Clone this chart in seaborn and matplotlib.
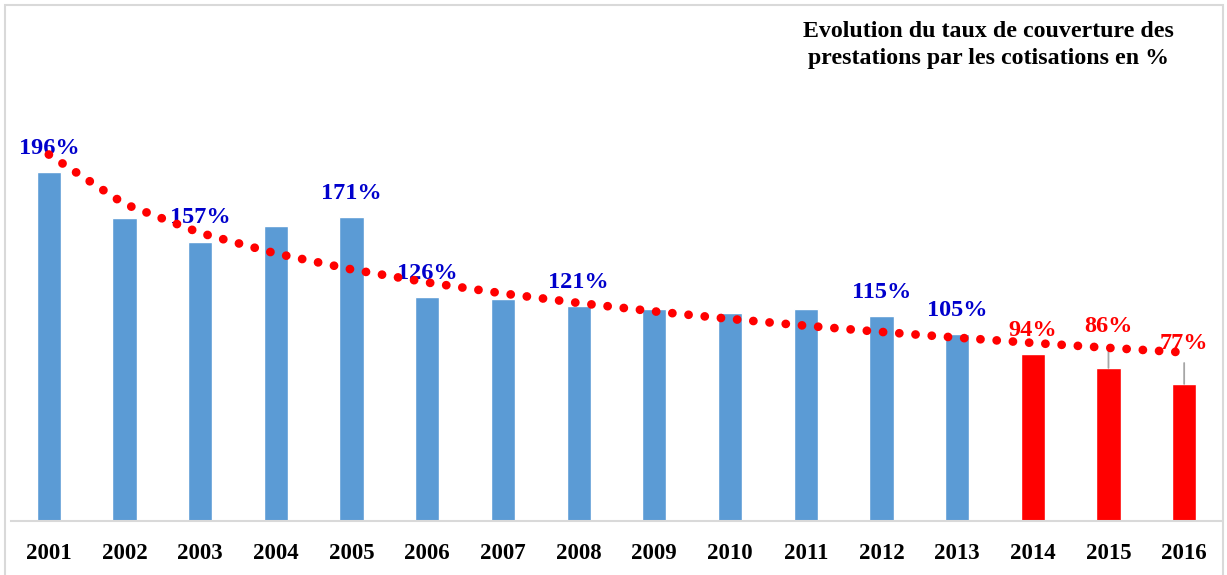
import matplotlib
matplotlib.use("Agg")
import matplotlib.pyplot as plt
import numpy as np
import pandas as pd
import seaborn as sns
from matplotlib.patches import Rectangle

annees = [str(a) for a in range(2001, 2017)]
taux = [196, 170, 157, 166, 171, 126, 125, 121, 119, 117, 119, 115, 105, 94, 86, 77]
etiquettes = ["196%", "", "157%", "", "171%", "126%", "", "121%", "", "", "", "115%", "105%", "94%", "86%", "77%"]
projection = [False] * 13 + [True] * 3

sns.set_theme(style="white")
plt.rcParams["font.family"] = ["Liberation Serif", "DejaVu Serif"]

df = pd.DataFrame({"annee": annees, "taux": taux})
couleurs = ["#FF0000" if p else "#5B9BD5" for p in projection]

fig = plt.figure(figsize=(12.27, 5.75), dpi=100)
ax = fig.add_axes([11 / 1227, 1 - 521 / 575, 1211 / 1227, 521 / 575])

sns.barplot(data=df, x="annee", y="taux", hue="annee", palette=couleurs,
            legend=False, width=0.32, saturation=1, ax=ax, zorder=2)

# tendance logarithmique (courbe de tendance Excel)
rang = np.arange(1, len(taux) + 1)
pente, origine = np.polyfit(np.log(rang), taux, 1)
ax.plot(rang - 1, origine + pente * np.log(rang), color="#FF0000",
        linestyle=(0, (0.01, 1.85)), lw=6.3, dash_capstyle="round", zorder=5)

# étiquettes de données
decalage = {14: 30, 15: 29}
for i, (v, txt) in enumerate(zip(taux, etiquettes)):
    if not txt:
        continue
    couleur = "#FF0000" if projection[i] else "#0000CC"
    off = decalage.get(i, 17)
    fleche = None
    if i in decalage:
        fleche = dict(arrowstyle="-", color="#A6A6A6", lw=1.3,
                      relpos=(0.5, 0), shrinkA=4, shrinkB=0)
    ax.annotate(txt, xy=(i, v), xytext=(0, off), textcoords="offset points",
                ha="center", va="center", fontsize=17.5, fontweight="bold",
                color=couleur, arrowprops=fleche, zorder=4)

ax.set_xlim(-0.5, len(taux) - 0.5)
ax.set_ylim(0, 521 / 1.78)
ax.set_yticks([])
ax.set_xlabel("")
ax.set_ylabel("")
for cote in ["top", "left", "right"]:
    ax.spines[cote].set_visible(False)
ax.spines["bottom"].set_color("#D9D9D9")
ax.spines["bottom"].set_linewidth(1.5)
ax.tick_params(axis="x", length=0, pad=16, labelsize=16.5, labelcolor="black")
for lab in ax.get_xticklabels():
    lab.set_fontweight("bold")

fig.text(988 / 1227, 1 - 45 / 575,
         "Evolution du taux de couverture des\nprestations par les cotisations en %",
         ha="center", va="center", multialignment="center",
         fontsize=17.2, fontweight="bold", color="black", linespacing=1.35)

fig.patches.append(Rectangle((5 / 1227, -0.01), 1218 / 1227, 1 - 5 / 575 + 0.01,
                             transform=fig.transFigure, fill=False,
                             edgecolor="#D9D9D9", lw=1.5))

fig.savefig("out.png", dpi=100)
